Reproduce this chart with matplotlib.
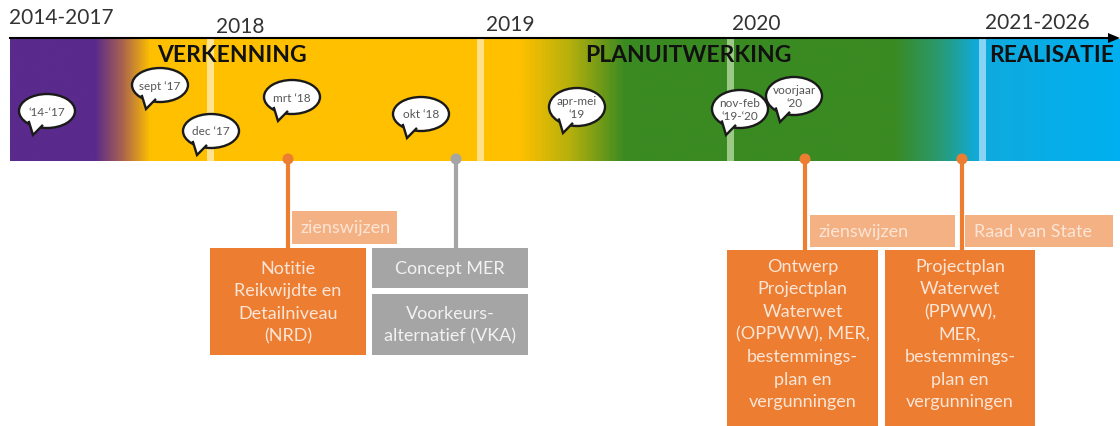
import matplotlib
matplotlib.use("Agg")
import matplotlib.pyplot as plt
import numpy as np
from matplotlib.patches import Ellipse, Polygon, Rectangle, Circle
from matplotlib.colors import LinearSegmentedColormap

plt.rcParams['font.family'] = ['Lato', 'DejaVu Sans']

# ---------------- data ----------------
year_labels = ["2014-2017", "2018", "2019", "2020", "2021-2026"]
year_label_x = [61, 240, 510, 756, 1037]
year_label_y = [18, 27, 25, 24, 23]
year_start_x = [210, 480, 730, 982]
year_stripe_colors = ["#FFE391", "#FFE08A", "#9CC985", "#86D3F2"]

phase_labels = ["VERKENNING", "PLANUITWERKING", "REALISATIE"]
phase_x = [232, 688, 1052]

# gradient colour stops along the timeline (x position, colour)
band_stop_x = [10, 95, 122, 150, 520, 570, 625, 895, 940, 978, 1120]
band_stop_c = ["#5A2A8C", "#5A2A8C", "#A8624F", "#FFC000", "#FFC000", "#B5B00C",
               "#3A8A22", "#3A8A22", "#2A9A70", "#10AADD", "#00B0F0"]

bubble_labels = ["\u201814-\u201817", "sept \u201817", "dec \u201817", "mrt \u201818", "okt \u201818",
                 "apr-mei\n\u201819", "nov-feb\n\u201819-\u201820", "voorjaar\n\u201820"]
bubble_x = [47, 160, 211, 292, 421, 577, 740, 794]
bubble_y = [112, 86, 132, 98, 115, 108, 110, 97]

milestone_x = [288, 456, 805, 962]
milestone_colors = ["#ED7D31", "#A5A5A5", "#ED7D31", "#ED7D31"]

box_texts = ["zienswijzen",
             "Notitie\nReikwijdte en\nDetailniveau\n(NRD)",
             "Concept MER",
             "Voorkeurs-\nalternatief (VKA)",
             "zienswijzen",
             "Raad van State",
             "Ontwerp\nProjectplan\nWaterwet\n(OPPWW), MER,\nbestemmings-\nplan en\nvergunningen",
             "Projectplan\nWaterwet\n(PPWW),\nMER,\nbestemmings-\nplan en\nvergunningen"]
box_kind = ["light", "orange", "grey", "grey", "light", "light", "orange", "orange"]

kind_face = {"light": "#F4B183", "orange": "#ED7D31", "grey": "#A5A5A5"}

# ---------------- figure ----------------
fig = plt.figure(figsize=(11.2, 4.27), dpi=100)
ax = fig.add_axes([0, 0, 1, 1])
ax.set_xlim(0, 1120)
ax.set_ylim(427, 0)
ax.axis("off")

# band gradient
span = band_stop_x[-1] - band_stop_x[0]
cmap = LinearSegmentedColormap.from_list(
    "band", [((x - band_stop_x[0]) / span, c) for x, c in zip(band_stop_x, band_stop_c)], N=2048)
grad = np.linspace(0, 1, 2200).reshape(1, -1)
ax.imshow(grad, cmap=cmap, aspect="auto", extent=(band_stop_x[0], band_stop_x[-1], 162, 40),
          zorder=1, interpolation="bilinear")

# year stripes
for x, c in zip(year_start_x, year_stripe_colors):
    ax.add_patch(Rectangle((x - 3.5, 40), 7, 122, facecolor=c, edgecolor="none", zorder=2))

# top axis arrow
ax.plot([10, 1108], [39, 39], color="black", lw=1.5, zorder=3)
ax.add_patch(Polygon([[1108, 34], [1108, 44], [1120, 39]], closed=True, facecolor="black",
                     edgecolor="none", zorder=3))

# year labels
for t, x, y in zip(year_labels, year_label_x, year_label_y):
    ax.text(x, y, t, ha="center", va="center", fontsize=15, color="#333333", zorder=4)

# phase labels
for t, x in zip(phase_labels, phase_x):
    ax.text(x, 55, t, ha="center", va="center", fontsize=16.5, fontweight="bold",
            color="#111111", zorder=4)

# speech bubbles
def bubble(cx, cy, text, a=27, b=17):
    tail_base1 = (cx + a * np.cos(np.radians(100)), cy + b * np.sin(np.radians(100)) - 2)
    tail_base2 = (cx + a * np.cos(np.radians(130)), cy + b * np.sin(np.radians(130)) - 2)
    tip = (cx - 0.5 * a, cy + b + 7)
    ax.add_patch(Ellipse((cx, cy), 2 * a, 2 * b, facecolor="white", edgecolor="#1a1a1a",
                         lw=1.7, zorder=5))
    ax.add_patch(Polygon([tail_base1, tip, tail_base2], closed=True, facecolor="white",
                         edgecolor="none", zorder=6))
    ax.plot([tail_base1[0], tip[0], tail_base2[0]], [tail_base1[1], tip[1], tail_base2[1]],
            color="#1a1a1a", lw=1.7, zorder=6, solid_joinstyle="miter")
    ax.text(cx, cy, text, ha="center", va="center", fontsize=8.5, color="#555555",
            zorder=7, linespacing=1.25)

for t, x, y in zip(bubble_labels, bubble_x, bubble_y):
    if "\n" in t:
        bubble(x, y, t, a=28, b=19)
    else:
        bubble(x, y, t, a=28, b=17)

# boxes (x0, y0, x1, y1) in pixel layout
box_rects = [(292, 212, 397, 245), (210, 249, 366, 356), (372, 249, 528, 289),
             (372, 295, 528, 356), (810, 216, 955, 248), (965, 216, 1113, 248),
             (727, 251, 878, 430), (885, 251, 1035, 430)]

# milestone stems
stem_bottom = [249, 249, 251, 251]
for x, c, yb in zip(milestone_x, milestone_colors, stem_bottom):
    ax.plot([x, x], [160, yb], color=c, lw=3, zorder=3, solid_capstyle="butt")
    ax.add_patch(Circle((x, 160), 5.5, facecolor=c, edgecolor="none", zorder=4))

for (x0, y0, x1, y1), t, k in zip(box_rects, box_texts, box_kind):
    ax.add_patch(Rectangle((x0, y0), x1 - x0, y1 - y0, facecolor=kind_face[k],
                           edgecolor="none", zorder=4))
    if k == "light":
        ax.text(x0 + 9, (y0 + y1) / 2, t, ha="left", va="center", fontsize=13,
                color="#FBE5D6", zorder=5)
    elif x0 > 700:
        ax.text((x0 + x1) / 2, y0 + 8, t, ha="center", va="top", fontsize=13,
                color="#FBE5D6", zorder=5, linespacing=1.5)
    else:
        ax.text((x0 + x1) / 2, (y0 + y1) / 2, t, ha="center", va="center", fontsize=13,
                color="#FBE5D6" if k == "orange" else "#F2F2F2", zorder=5, linespacing=1.5)

fig.savefig("out.png", dpi=100)
